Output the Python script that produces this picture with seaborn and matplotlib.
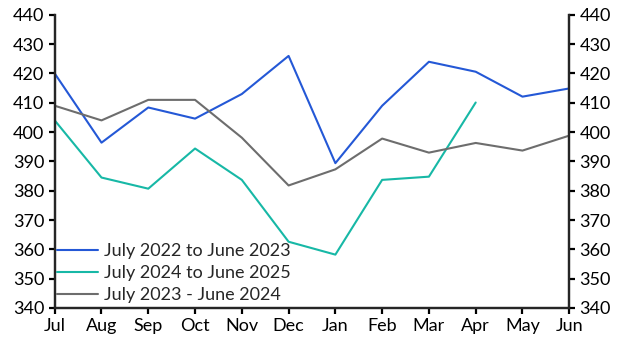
import numpy as np
import pandas as pd
import seaborn as sns
import matplotlib.pyplot as plt

months = ['Jul', 'Aug', 'Sep', 'Oct', 'Nov', 'Dec', 'Jan', 'Feb', 'Mar', 'Apr', 'May', 'Jun']

fy_2022 = [420.0, 396.4, 408.4, 404.6, 413.0, 426.0, 389.4, 409.0, 424.0, 420.6, 412.1, 414.9]
fy_2024 = [404.0, 384.5, 380.7, 394.4, 383.7, 362.6, 358.2, 383.7, 384.8, 410.1, np.nan, np.nan]
fy_2023 = [409.0, 404.0, 411.0, 411.0, 398.1, 381.8, 387.3, 397.8, 393.0, 396.3, 393.7, 398.8]

series_names = ['July 2022 to June 2023', 'July 2024 to June 2025', 'July 2023 - June 2024']
palette = {
    'July 2022 to June 2023': '#2458D6',
    'July 2024 to June 2025': '#17B8A6',
    'July 2023 - June 2024': '#6D6D6D',
}

# long format for seaborn
df = pd.DataFrame({
    'pos': np.tile(np.arange(len(months)), 3),
    'value': fy_2022 + fy_2024 + fy_2023,
    'series': np.repeat(series_names, len(months)),
})

sns.set_style('ticks')
plt.rcParams['font.family'] = ['Lato', 'DejaVu Sans']

fig, ax = plt.subplots(figsize=(6.29, 3.54), dpi=100)
sns.lineplot(data=df, x='pos', y='value', hue='series', hue_order=series_names,
             palette=palette, linewidth=1.5, ax=ax, legend=True)

ax.set_xlim(0, len(months) - 1)
ax.set_ylim(340, 440)
ax.set_yticks(np.arange(340, 441, 10))
ax.set_xticks(np.arange(len(months)))
ax.set_xticklabels(months)
ax.set_xlabel('')
ax.set_ylabel('')

ax2 = ax.twinx()
ax2.set_ylim(340, 440)
ax2.set_yticks(np.arange(340, 441, 10))

for a in (ax, ax2):
    a.spines['top'].set_visible(False)
    for s in ('left', 'right', 'bottom'):
        a.spines[s].set_linewidth(1.6)
    a.tick_params(axis='both', direction='out', length=4, width=1.6, labelsize=13, colors='black')

ax.legend(loc='lower left', frameon=False, fontsize=13, handlelength=2.3,
          handletextpad=0.35, labelspacing=0.33, borderaxespad=0.0, borderpad=0.1,
          bbox_to_anchor=(0.0, 0.01))

plt.subplots_adjust(left=0.087, right=0.905, top=0.958, bottom=0.13)
plt.savefig('out.png', dpi=100)
